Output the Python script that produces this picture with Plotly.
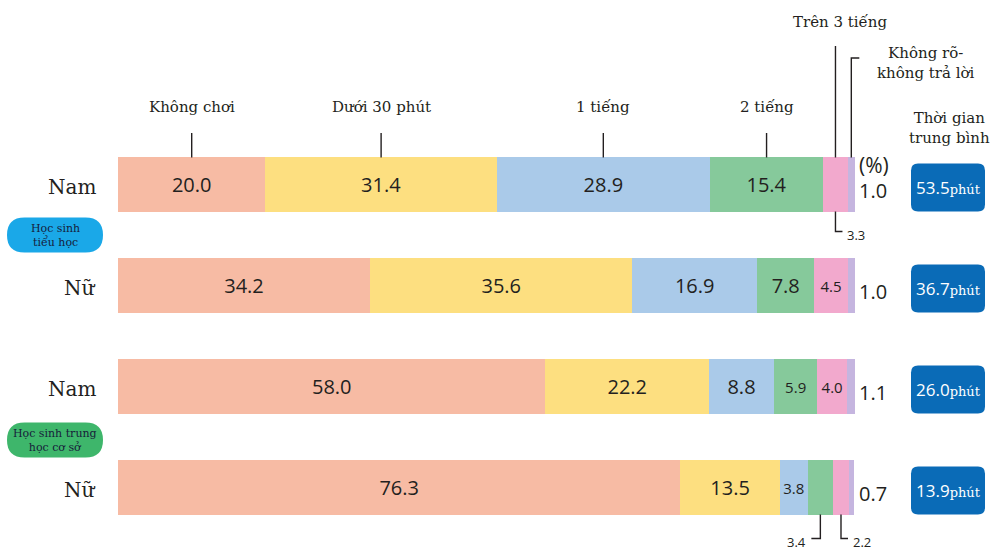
import plotly.graph_objects as go

# ---------------- data ----------------
series_names = ["Không chơi", "Dưới 30 phút", "1 tiếng", "2 tiếng", "Trên 3 tiếng", "Không rõ-<br>không trả lời"]
genders = ["Nam", "Nữ", "Nam", "Nữ"]
groups = ["Học sinh<br>tiểu học", "Học sinh trung<br>học cơ sở"]
khong_choi = [20.0, 34.2, 58.0, 76.3]
duoi_30_phut = [31.4, 35.6, 22.2, 13.5]
mot_tieng = [28.9, 16.9, 8.8, 3.8]
hai_tieng = [15.4, 7.8, 5.9, 3.4]
tren_3_tieng = [3.3, 4.5, 4.0, 2.2]
khong_ro = [1.0, 1.0, 1.1, 0.7]
avg_minutes = ["53.5", "36.7", "26.0", "13.9"]
series = [khong_choi, duoi_30_phut, mot_tieng, hai_tieng, tren_3_tieng, khong_ro]

# ---------------- style ----------------
colors = ["#F7BBA4", "#FDDF80", "#AACAE9", "#86C99B", "#F2A9CD", "#C5B5DF"]
SERIF = "DejaVu Serif"
SANS = "Open Sans"
TXT = "#231F20"
W, H = 994, 555
PL, PR, PT, ROW = 118, 855, 134, 101
PB = PT + 4 * ROW


def fx(px):
    return px / W


def fy(py):
    return 1 - py / H


def xpix(v):
    return PL + (PR - PL) * v / 100.0


def rc(i):
    return PT + (i + 0.5) * ROW


def rrect(x0, y0, x1, y1, r):
    pts = [("M", [(x0 + r, y0)]), ("L", [(x1 - r, y0)]), ("Q", [(x1, y0), (x1, y0 + r)]),
           ("L", [(x1, y1 - r)]), ("Q", [(x1, y1), (x1 - r, y1)]), ("L", [(x0 + r, y1)]),
           ("Q", [(x0, y1), (x0, y1 - r)]), ("L", [(x0, y0 + r)]), ("Q", [(x0, y0), (x0 + r, y0)])]
    s = ""
    for cmd, ps in pts:
        s += cmd + " " + " ".join(f"{fx(a):.5f},{fy(b):.5f}" for a, b in ps) + " "
    return s + "Z"


def note(px, py, text, size, family=SERIF, color=TXT, anchor="center"):
    return dict(xref="paper", yref="paper", x=fx(px), y=fy(py), text=text, showarrow=False,
                xanchor=anchor, yanchor="middle", font=dict(family=family, size=size, color=color))


rows = list(range(len(genders)))
BAR_W = 0.535

fig = go.Figure()
for j, vals in enumerate(series):
    last = j == len(series) - 1
    texts = [f"{v:.1f}" if (v >= 3.5 and not last) else "" for v in vals]
    sizes = [20 if v >= 6 else 15 for v in vals]
    fig.add_trace(go.Bar(
        x=vals, y=rows, orientation="h", width=BAR_W,
        name=series_names[j].replace("<br>", " "),
        marker=dict(color=colors[j], line=dict(width=0)),
        text=texts, textposition="inside", insidetextanchor="middle", textangle=0,
        constraintext="none",
        textfont=dict(family=SANS, size=sizes, color=TXT),
        hoverinfo="x+name",
    ))

ann = []
shapes = []
line_style = dict(color="#231F20", width=1.4)

# top category labels with ticks (centres of the first bar's segments)
cum = 0.0
bar_top0 = rc(0) - BAR_W * ROW / 2
for j, vals in enumerate(series):
    v = vals[0]
    cx = xpix(cum + v / 2)
    cum += v
    if j < 4:
        ann.append(note(cx, 107, series_names[j], 15))
        shapes.append(dict(type="line", xref="paper", yref="paper", x0=fx(cx), x1=fx(cx),
                           y0=fy(133), y1=fy(bar_top0), line=line_style))
    elif j == 4:
        ann.append(note(cx + 5, 22, series_names[j], 15))
        shapes.append(dict(type="line", xref="paper", yref="paper", x0=fx(cx), x1=fx(cx),
                           y0=fy(46), y1=fy(bar_top0), line=line_style))
    else:
        ann.append(note(926, 63, series_names[j], 15))
        shapes.append(dict(type="path", xref="paper", yref="paper",
                           path=f"M {fx(cx+8):.5f},{fy(58):.5f} L {fx(cx):.5f},{fy(58):.5f} L {fx(cx):.5f},{fy(bar_top0):.5f}",
                           line=line_style))

# average time header
ann.append(note(949, 128, "Thời gian<br>trung bình", 15))
# (%)
ann.append(note(857, 165, "(%)", 21, family=SANS, anchor="left"))

for i in rows:
    yc = rc(i)
    ann.append(note(98, yc + 2, genders[i], 20, anchor="right"))
    ann.append(note(857, yc + 6, f"{khong_ro[i]:.1f}", 20, family=SANS, anchor="left"))
    shapes.append(dict(type="path", xref="paper", yref="paper",
                       path=rrect(911, yc + 3 - 24, 985, yc + 3 + 24, 7),
                       fillcolor="#0A6BB7", line=dict(width=0)))
    ann.append(note(948, yc + 3,
                    f"{avg_minutes[i]}<span style='font-family:{SERIF};font-size:13px'>phút</span>",
                    17, family=SANS, color="white"))
    # leader lines for small segments
    cum = 0.0
    bot = yc + BAR_W * ROW / 2
    for j, vals in enumerate(series):
        v = vals[i]
        cx = xpix(cum + v / 2)
        cum += v
        if j < len(series) - 1 and v < 3.5:
            right = j == 4
            ly = bot + (20 if i == 0 else 24)
            hx = cx + 7 if right else cx - 9
            shapes.append(dict(type="path", xref="paper", yref="paper",
                               path=f"M {fx(cx):.5f},{fy(bot):.5f} L {fx(cx):.5f},{fy(ly):.5f} L {fx(hx):.5f},{fy(ly):.5f}",
                               line=line_style))
            ann.append(note(cx + 10 if right else cx - 12, ly + 3, f"{v:.1f}", 13, family=SANS,
                            anchor="left" if right else "right"))

# group pills
pill_specs = [(groups[0], (rc(0) + rc(1)) / 2, "#1AA8E8"), (groups[1], (rc(2) + rc(3)) / 2 + 3, "#3EB66B")]
for txt, yc, col in pill_specs:
    shapes.append(dict(type="path", xref="paper", yref="paper", path=rrect(7, yc - 17.5, 103, yc + 17.5, 17.5),
                       fillcolor=col, line=dict(width=0)))
    ann.append(note(55, yc, txt, 11, color="#16203A"))

fig.update_layout(
    width=W, height=H,
    barmode="stack", showlegend=False,
    margin=dict(l=0, r=0, t=0, b=0),
    paper_bgcolor="white", plot_bgcolor="white",
    xaxis=dict(domain=[fx(PL), fx(PR)], range=[0, 100], visible=False, fixedrange=True),
    yaxis=dict(domain=[fy(PB), fy(PT)], range=[3.5, -0.5], visible=False, fixedrange=True),
    annotations=ann, shapes=shapes,
)

fig.write_html("out.html", config={"displayModeBar": False},
               post_script="document.body.style.margin='0px';")
